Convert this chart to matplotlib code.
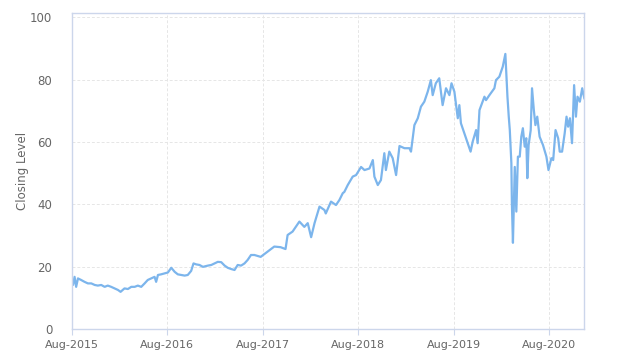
import matplotlib
matplotlib.use("Agg")
import matplotlib.pyplot as plt
import matplotlib.dates as mdates
import pandas as pd

dates = [
    "2015-08-01", "2015-08-06", "2015-08-12", "2015-08-18", "2015-08-25", "2015-09-06",
    "2015-09-19", "2015-10-02", "2015-10-15", "2015-10-28", "2015-11-09", "2015-11-22",
    "2015-12-05", "2015-12-17", "2015-12-30", "2016-01-12", "2016-01-25", "2016-02-04",
    "2016-02-19", "2016-03-03", "2016-03-16", "2016-03-29", "2016-04-10", "2016-04-23",
    "2016-05-06", "2016-05-18", "2016-05-31", "2016-06-13", "2016-06-19", "2016-06-26",
    "2016-07-08", "2016-07-21", "2016-08-03", "2016-08-16", "2016-08-29", "2016-09-10",
    "2016-09-23", "2016-10-06", "2016-10-18", "2016-10-31", "2016-11-09", "2016-11-19",
    "2016-12-02", "2016-12-15", "2017-01-03", "2017-01-16", "2017-01-29", "2017-02-10",
    "2017-02-23", "2017-03-08", "2017-03-20", "2017-04-02", "2017-04-15", "2017-04-27",
    "2017-05-10", "2017-05-23", "2017-06-04", "2017-06-17", "2017-06-30", "2017-07-24",
    "2017-08-20", "2017-09-14", "2017-10-08", "2017-10-27", "2017-11-04", "2017-11-23",
    "2017-12-19", "2018-01-07", "2018-01-20", "2018-02-02", "2018-02-15", "2018-03-06",
    "2018-03-25", "2018-03-30", "2018-04-19", "2018-05-08", "2018-05-21", "2018-06-03",
    "2018-06-09", "2018-06-22", "2018-07-11", "2018-07-24", "2018-08-12", "2018-08-25",
    "2018-09-13", "2018-09-26", "2018-10-02", "2018-10-15", "2018-10-27", "2018-11-09",
    "2018-11-15", "2018-11-28", "2018-12-11", "2018-12-24", "2019-01-06", "2019-01-25",
    "2019-02-13", "2019-02-19", "2019-03-04", "2019-03-17", "2019-03-29", "2019-04-11",
    "2019-04-24", "2019-05-06", "2019-05-13", "2019-05-25", "2019-06-07", "2019-06-20",
    "2019-07-03", "2019-07-16", "2019-07-24", "2019-08-04", "2019-08-17", "2019-08-23",
    "2019-08-29", "2019-09-11", "2019-09-24", "2019-10-05", "2019-10-13", "2019-10-26",
    "2019-11-01", "2019-11-08", "2019-11-27", "2019-12-03", "2019-12-16", "2020-01-04",
    "2020-01-10", "2020-01-23", "2020-02-05", "2020-02-15", "2020-02-23", "2020-02-28",
    "2020-03-03", "2020-03-09", "2020-03-11", "2020-03-15", "2020-03-22", "2020-03-28",
    "2020-04-03", "2020-04-10", "2020-04-16", "2020-04-22", "2020-04-29", "2020-05-05",
    "2020-05-09", "2020-05-14", "2020-05-22", "2020-05-27", "2020-06-03", "2020-06-09",
    "2020-06-16", "2020-06-25", "2020-07-08", "2020-07-21", "2020-07-29", "2020-08-09",
    "2020-08-16", "2020-08-25", "2020-09-04", "2020-09-10", "2020-09-19", "2020-09-29",
    "2020-10-06", "2020-10-12", "2020-10-19", "2020-10-27", "2020-11-04", "2020-11-11",
    "2020-11-17", "2020-11-26", "2020-12-05", "2020-12-13",
]

closing_level = [
    15.8, 14.2, 16.8, 13.6, 16.3, 15.8,
    15.2, 14.7, 14.7, 14.2, 14.0, 14.2,
    13.6, 14.0, 13.6, 13.1, 12.6, 12.0,
    13.1, 12.9, 13.6, 13.6, 14.0, 13.6,
    14.7, 15.8, 16.3, 16.8, 15.2, 17.4,
    17.6, 17.9, 18.2, 19.7, 18.4, 17.6,
    17.4, 17.2, 17.4, 18.7, 21.1, 20.8,
    20.6, 20.0, 20.4, 20.6, 21.1, 21.6,
    21.5, 20.4, 19.7, 19.3, 19.0, 20.6,
    20.4, 21.1, 22.2, 23.8, 23.8, 23.2,
    24.9, 26.5, 26.3, 25.7, 30.2, 31.3,
    34.5, 32.8, 34.0, 29.5, 34.0, 39.3,
    38.2, 37.1, 40.9, 39.8, 41.4, 43.6,
    44.0, 46.2, 48.9, 49.4, 52.0, 51.0,
    51.5, 54.2, 48.9, 46.2, 47.8, 56.4,
    51.0, 56.9, 54.8, 49.4, 58.7, 58.0,
    58.0, 56.9, 65.4, 67.6, 71.3, 72.9,
    76.1, 79.8, 75.0, 78.8, 80.4, 71.8,
    77.2, 75.0, 78.8, 76.1, 67.6, 71.8,
    66.0, 62.8, 59.6, 56.9, 60.1, 63.8,
    59.6, 70.2, 74.5, 73.4, 75.0, 77.2,
    79.8, 80.9, 84.1, 88.2, 74.5, 68.1,
    63.8, 53.2, 40.3, 27.7, 52.0, 37.7,
    55.3, 55.3, 61.7, 64.4, 58.5, 61.2,
    48.4, 59.0, 63.8, 77.2, 70.2, 65.4,
    68.1, 61.7, 59.0, 55.3, 51.0, 54.8,
    54.2, 63.8, 61.2, 56.9, 56.9, 62.8,
    68.1, 64.9, 67.6, 59.6, 78.2, 68.1,
    74.5, 72.9, 77.2, 74.0,
]

tick_labels = ["Aug-2015", "Aug-2016", "Aug-2017", "Aug-2018", "Aug-2019", "Aug-2020"]
tick_dates = ["2015-08-01", "2016-08-01", "2017-08-01", "2018-08-01", "2019-08-01", "2020-08-01"]
y_ticks = [0, 20, 40, 60, 80, 100]

x = pd.to_datetime(dates)

fig = plt.figure(figsize=(6.24, 3.63), dpi=100)
ax = fig.add_axes([71.7 / 624, 1 - 329.3 / 363, (584.3 - 71.7) / 624, (329.3 - 12.7) / 363])

ax.plot(x, closing_level, color="#7cb5ec", linewidth=1.6, solid_joinstyle="round")

ax.set_xlim(x[0], x[-1])
ax.set_ylim(0, 101.4)
ax.set_yticks(y_ticks)
ax.set_xticks(pd.to_datetime(tick_dates))
ax.set_xticklabels(tick_labels)

ax.grid(True, color="#e6e6e6", linestyle=(0, (3, 2)), linewidth=0.7)
ax.set_axisbelow(True)
for s in ax.spines.values():
    s.set_color("#ccd6eb")
    s.set_linewidth(1.0)

ax.tick_params(axis="y", length=0, pad=14, labelsize=8.5, labelcolor="#666666")
ax.tick_params(axis="x", length=4, width=0.8, color="#ccd6eb", pad=4, labelsize=8, labelcolor="#666666")
ax.set_ylabel("Closing Level", fontsize=8.5, color="#666666", labelpad=1)

fig.savefig("out.png", dpi=100)
